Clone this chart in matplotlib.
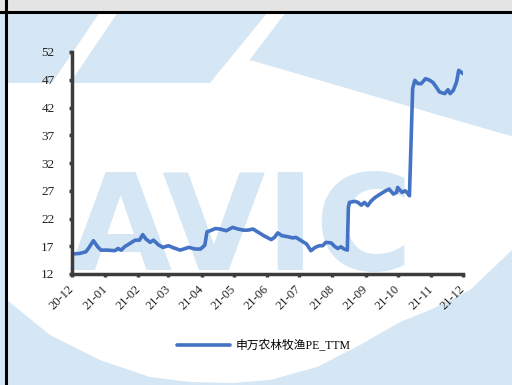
import matplotlib
matplotlib.use("Agg")
import matplotlib.pyplot as plt
import matplotlib.transforms as mtransforms
from matplotlib.patches import Polygon, Rectangle
import pandas as pd

# PE_TTM readings
dates = ["2020-12-01", "2020-12-08", "2020-12-14", "2020-12-17", "2020-12-21",
         "2020-12-25", "2020-12-28", "2021-01-03", "2021-01-10", "2021-01-13",
         "2021-01-16", "2021-01-19", "2021-01-24", "2021-01-29", "2021-02-02",
         "2021-02-05", "2021-02-08", "2021-02-12", "2021-02-15", "2021-02-20",
         "2021-02-24", "2021-03-01", "2021-03-06", "2021-03-12", "2021-03-20",
         "2021-03-26", "2021-03-31", "2021-04-04", "2021-04-06", "2021-04-09",
         "2021-04-14", "2021-04-18", "2021-04-24", "2021-04-30", "2021-05-05",
         "2021-05-10", "2021-05-14", "2021-05-19", "2021-05-24", "2021-05-30",
         "2021-06-05", "2021-06-08", "2021-06-11", "2021-06-15", "2021-06-21",
         "2021-06-25", "2021-06-28", "2021-07-03", "2021-07-08", "2021-07-12",
         "2021-07-16", "2021-07-20", "2021-07-23", "2021-07-26", "2021-07-31",
         "2021-08-03", "2021-08-06", "2021-08-09", "2021-08-12", "2021-08-15",
         "2021-08-16", "2021-08-17", "2021-08-22", "2021-08-25", "2021-08-28",
         "2021-08-31", "2021-09-03", "2021-09-06", "2021-09-10", "2021-09-14",
         "2021-09-19", "2021-09-23", "2021-09-27", "2021-09-30", "2021-10-01",
         "2021-10-05", "2021-10-08", "2021-10-11", "2021-10-12", "2021-10-15",
         "2021-10-17", "2021-10-20", "2021-10-23", "2021-10-27", "2021-10-31",
         "2021-11-03", "2021-11-06", "2021-11-09", "2021-11-14", "2021-11-17",
         "2021-11-19", "2021-11-22", "2021-11-25", "2021-11-27", "2021-12-01"]
pe_ttm = [15.6, 15.7, 16.0, 16.8, 18.0,
          16.9, 16.3, 16.3, 16.2, 16.6,
          16.3, 16.9, 17.5, 18.1, 18.1,
          19.1, 18.3, 17.7, 18.1, 17.2,
          16.8, 17.1, 16.7, 16.3, 16.8,
          16.5, 16.5, 17.2, 19.6, 19.8,
          20.2, 20.1, 19.8, 20.4, 20.1,
          19.9, 19.9, 20.1, 19.5, 18.8,
          18.2, 18.6, 19.4, 18.9, 18.7,
          18.5, 18.6, 18.0, 17.4, 16.2,
          16.8, 17.1, 17.1, 17.7, 17.6,
          17.0, 16.6, 16.9, 16.5, 16.3,
          24.0, 24.9, 25.1, 24.9, 24.4,
          24.9, 24.3, 25.1, 25.8, 26.3,
          26.9, 27.3, 26.4, 26.7, 27.6,
          26.7, 27.0, 26.4, 26.1, 45.4,
          46.9, 46.3, 46.3, 47.2, 46.9,
          46.5, 45.7, 44.8, 44.5, 45.2,
          44.5, 45.1, 46.6, 48.7, 48.1]
month_ticks = pd.date_range("2020-12-01", "2021-12-01", freq="MS")
month_labels = [d.strftime("%y-%m") for d in month_ticks]
y_ticks = [12, 17, 22, 27, 32, 37, 42, 47, 52]
series_name = "申万农林牧渔PE_TTM"

W, H = 512, 385
fig = plt.figure(figsize=(W / 100, H / 100), dpi=100)

# background with the watermark (pixel coordinates, y down)
bg = fig.add_axes([0, 0, 1, 1], zorder=-1)
bg.set_xlim(0, W)
bg.set_ylim(H, 0)
bg.axis("off")
wm = "#d5e7f5"
bg.add_patch(Rectangle((0, 12), W, H, color=wm, lw=0))
white_body = [(7, 83), (60, 83), (210, 83), (250, 60), (500, 133), (512, 136),
              (512, 250), (470, 290), (430, 310), (400, 322), (360, 345),
              (317, 367), (270, 380), (233, 383), (190, 382), (150, 377),
              (100, 360), (50, 335), (7, 300)]
bg.add_patch(Polygon(white_body, closed=True, color="white", lw=0))
bg.add_patch(Polygon([(100, 12), (118, 12), (70, 83), (52, 83)], color="white", lw=0))
bg.add_patch(Polygon([(268, 12), (286, 12), (232, 83), (210, 83)], color="white", lw=0))
bg.text(241, 270, "AVIC", fontsize=96, color=wm, ha="center", va="baseline",
        family="DejaVu Sans", fontweight="bold")
# title bar and frame
bg.add_patch(Rectangle((0, 0), W, 10.5, color="#e4e4e4", lw=0))
bg.plot([0, W], [11.5, 11.5], color="black", lw=2.2)
bg.plot([5.5, 5.5], [0, H], color="black", lw=2.2)

ax = fig.add_axes([72 / W, 1 - 274 / H, 391 / W, (274 - 52) / H])
ax.patch.set_alpha(0)
ax.plot(pd.to_datetime(dates), pe_ttm, color="#4472C4", lw=2.6,
        solid_capstyle="round", solid_joinstyle="round", label=series_name)

ax.set_xlim(month_ticks[0], month_ticks[-1])
ax.set_ylim(12, 52)
ax.set_yticks(y_ticks)
ax.set_xticks(month_ticks)
ax.set_xticklabels(month_labels, rotation=45, ha="right", va="top", rotation_mode="anchor")
for s in ["top", "right"]:
    ax.spines[s].set_visible(False)
for s in ["left", "bottom"]:
    ax.spines[s].set_color("#3c3c3c")
    ax.spines[s].set_linewidth(2.5)
ax.tick_params(axis="both", direction="out", length=2.5, width=2.5, color="#3c3c3c",
               labelcolor="#222222")
ax.tick_params(axis="y", pad=10, labelsize=9.5)
ax.tick_params(axis="x", pad=4, labelsize=9)
shift = mtransforms.ScaledTranslation(-4 / 100, 0, fig.dpi_scale_trans)
for lab in ax.get_xticklabels():
    lab.set_transform(lab.get_transform() + shift)
for lab in ax.get_xticklabels() + ax.get_yticklabels():
    lab.set_family("Liberation Serif")

fig.legend(loc="center", bbox_to_anchor=(264 / W, 1 - 346 / H), frameon=False,
           handlelength=4.5, handletextpad=0.5,
           prop={"family": ["Liberation Serif", "Noto Sans CJK SC"], "size": 8.5})

fig.savefig("out.png", dpi=100)
